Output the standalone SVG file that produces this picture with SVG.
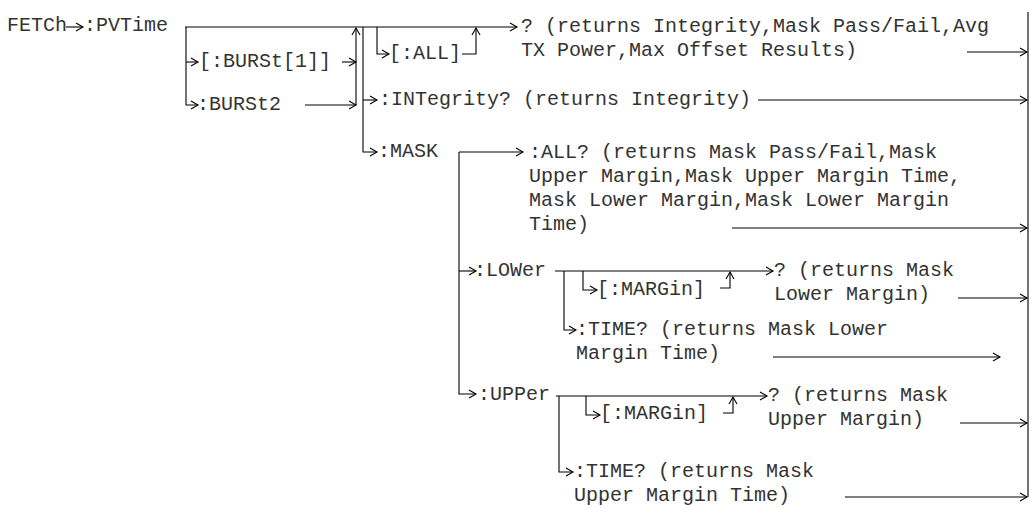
<svg xmlns="http://www.w3.org/2000/svg" width="1035" height="508" viewBox="0 0 1035 508">
<style>
text{font-family:"Liberation Mono","Courier New",monospace;font-size:20px;fill:#333}
.c path{fill:none;stroke:#000;stroke-width:1.1}
.a{marker-end:url(#arr)}
</style>
<defs>
<marker id="arr" markerUnits="userSpaceOnUse" markerWidth="12" markerHeight="12" viewBox="-8 -6 10 12" refX="0" refY="0" orient="auto" overflow="visible">
<path d="M-7,-4 L0,0 L-7,4" fill="none" stroke="#000" stroke-width="1.1"/>
</marker>
</defs>
<rect width="1035" height="508" fill="#fff"/>
<g id="connectors" class="c">
<path class="a" d="M66,27 H83"/>
<path class="a" d="M185,27 H517"/>
<path class="a" d="M186,27 V105 H198"/>
<path class="a" d="M186,62 H198"/>
<path class="a" d="M342,62 H356"/>
<path class="a" d="M305,105 H356"/>
<path class="a" d="M356,105 V28"/>
<path class="a" d="M363,27 V152 H377"/>
<path class="a" d="M363,100 H377"/>
<path class="a" d="M377,27 V54 H389"/>
<path class="a" d="M462,54 H476 V28"/>
<path class="a" d="M967,52 H1027"/>
<path class="a" d="M758,100 H1027"/>
<path class="a" d="M459,152 H523"/>
<path class="a" d="M459,152 V394 H476"/>
<path class="a" d="M459,271 H476"/>
<path class="a" d="M732,228 H1027"/>
<path class="a" d="M555,271 H773"/>
<path class="a" d="M583,271 V290 H597"/>
<path class="a" d="M720,288 H730 V272"/>
<path class="a" d="M564,271 V330 H576"/>
<path class="a" d="M958,298 H1027"/>
<path class="a" d="M773,357 H1000"/>
<path class="a" d="M556,396 H767"/>
<path class="a" d="M586,396 V415 H600"/>
<path class="a" d="M723,413 H733 V397"/>
<path class="a" d="M559,396 V472 H573"/>
<path class="a" d="M960,423 H1027"/>
<path class="a" d="M845,497 H1027"/>
<path d="M1028,12 V497"/>
</g>
<g id="n-fetch"><text x="7" y="31">FETCh</text></g>
<g id="n-pvtime"><text x="84" y="31">:PVTime</text></g>
<g id="n-burst1"><text x="199" y="67">[:BURSt[1]]</text></g>
<g id="n-burst2"><text x="197" y="110">:BURSt2</text></g>
<g id="n-all"><text x="389" y="59">[:ALL]</text></g>
<g id="n-query"><text x="521" y="32">? (returns Integrity,Mask Pass/Fail,Avg<tspan x="521" dy="24">TX Power,Max Offset Results)</tspan></text></g>
<g id="n-integrity"><text x="379" y="105">:INTegrity? (returns Integrity)</text></g>
<g id="n-mask"><text x="378" y="157">:MASK</text></g>
<g id="n-mask-all"><text x="529" y="158">:ALL? (returns Mask Pass/Fail,Mask<tspan x="529" dy="24">Upper Margin,Mask Upper Margin Time,</tspan><tspan x="529" dy="24">Mask Lower Margin,Mask Lower Margin</tspan><tspan x="529" dy="24">Time)</tspan></text></g>
<g id="n-lower"><text x="474" y="276">:LOWer</text></g>
<g id="n-lower-margin"><text x="597" y="295">[:MARGin]</text></g>
<g id="n-lower-query"><text x="774" y="276">? (returns Mask<tspan x="774" dy="24">Lower Margin)</tspan></text></g>
<g id="n-lower-time"><text x="576" y="335">:TIME? (returns Mask Lower<tspan x="576" dy="24">Margin Time)</tspan></text></g>
<g id="n-upper"><text x="478" y="400">:UPPer</text></g>
<g id="n-upper-margin"><text x="600" y="419">[:MARGin]</text></g>
<g id="n-upper-query"><text x="768" y="401">? (returns Mask<tspan x="768" dy="24">Upper Margin)</tspan></text></g>
<g id="n-upper-time"><text x="574" y="477">:TIME? (returns Mask<tspan x="574" dy="24">Upper Margin Time)</tspan></text></g>
</svg>
